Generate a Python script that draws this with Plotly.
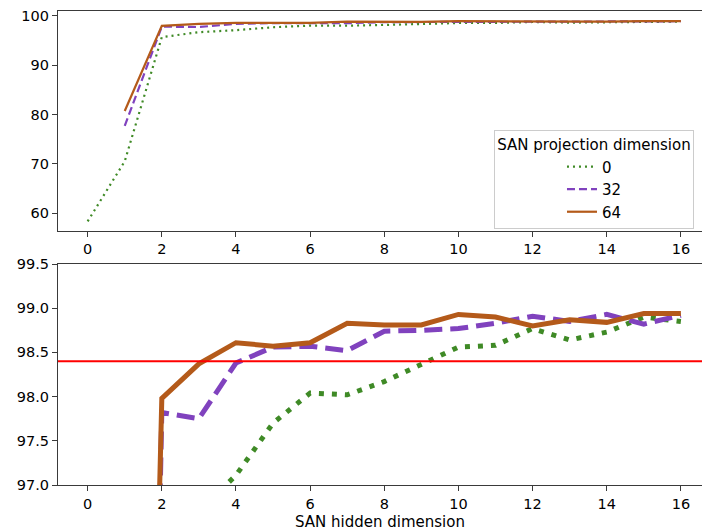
import plotly.graph_objects as go

# Accuracy (%) versus SAN hidden dimension, one series per projection dimension
hidden_dim_p0 = list(range(0, 17))
acc_p0 = [58.3, 70.5, 95.7, 96.7, 97.11, 97.70, 98.04, 98.02, 98.17, 98.36,
          98.56, 98.58, 98.77, 98.64, 98.73, 98.90, 98.85]

hidden_dim_p32 = list(range(1, 17))
acc_p32 = [77.7, 97.82, 97.75, 98.38, 98.56, 98.57, 98.52, 98.74, 98.75,
           98.77, 98.83, 98.91, 98.85, 98.93, 98.82, 98.92]

hidden_dim_p64 = list(range(1, 17))
acc_p64 = [80.7, 97.98, 98.37, 98.61, 98.57, 98.61, 98.83, 98.81, 98.81,
           98.93, 98.90, 98.80, 98.87, 98.84, 98.94, 98.94]

series_names = ["0", "32", "64"]
reference_acc = 98.4

x_ticks = list(range(0, 17, 2))
top_y_ticks = [60, 70, 80, 90, 100]
bottom_y_ticks = [97.0, 97.5, 98.0, 98.5, 99.0, 99.5]

GREEN = "#3f8a26"
PURPLE = "#8042be"
ORANGE = "#b45a1a"
FONT = "DejaVu Sans"

series = [
    (hidden_dim_p0, acc_p0, series_names[0], GREEN, "2px,4px", "5px,8px"),
    (hidden_dim_p32, acc_p32, series_names[1], PURPLE, "8px,4px", "18px,8px"),
    (hidden_dim_p64, acc_p64, series_names[2], ORANGE, "solid", "solid"),
]

fig = go.Figure()

# overview panel (thin lines) with legend
for xs, ys, name, color, dash_thin, dash_thick in series:
    fig.add_trace(go.Scatter(
        x=xs, y=ys, name=name, mode="lines",
        line=dict(color=color, width=2.2, dash=dash_thin),
        xaxis="x", yaxis="y", showlegend=True,
    ))

# zoomed panel (thick lines)
for xs, ys, name, color, dash_thin, dash_thick in series:
    fig.add_trace(go.Scatter(
        x=xs, y=ys, name=name, mode="lines",
        line=dict(color=color, width=5, dash=dash_thick),
        xaxis="x2", yaxis="y2", showlegend=False,
    ))

# reference accuracy level across the zoomed panel
fig.add_shape(type="line", xref="x2 domain", yref="y2",
              x0=0, x1=1, y0=reference_acc, y1=reference_acc,
              line=dict(color="#ff0000", width=2))

axis_common = dict(
    showline=True, linecolor="#3a3a3a", linewidth=1.2,
    ticks="outside", ticklen=5, tickwidth=1.2, tickcolor="#3a3a3a",
    showgrid=False, zeroline=False,
    tickfont=dict(family=FONT, size=14.5, color="#000000"),
)

x_range = [-0.8, 16.57]

fig.update_layout(
    width=702, height=531,
    paper_bgcolor="white", plot_bgcolor="white",
    margin=dict(l=58, r=0, t=11, b=46, autoexpand=False),
    font=dict(family=FONT, size=14.5, color="#000000"),
    xaxis=dict(domain=[0, 1], range=x_range, anchor="y", mirror=True,
               tickmode="array", tickvals=x_ticks, **axis_common),
    yaxis=dict(domain=[0.5359, 1], range=[56.35, 101.0], anchor="x",
               tickmode="array", tickvals=top_y_ticks, **axis_common),
    xaxis2=dict(domain=[0, 1], range=x_range, anchor="y2", mirror=True,
                tickmode="array", tickvals=x_ticks,
                title=dict(text="SAN hidden dimension", standoff=6,
                           font=dict(family=FONT, size=15)),
                **axis_common),
    yaxis2=dict(domain=[0, 0.4662], range=[97.0, 99.5], anchor="x2",
                tickmode="array", tickvals=bottom_y_ticks,
                tickformat=".1f", **axis_common),
    legend=dict(
        x=0.677, y=0.749, xanchor="left", yanchor="top",
        bgcolor="rgba(255,255,255,0.85)", bordercolor="#cccccc", borderwidth=1,
        font=dict(family=FONT, size=15),
        title=dict(text="SAN projection dimension", side="top center",
                   font=dict(family=FONT, size=15)),
        indentation=67,
        tracegroupgap=0,
    ),
)

fig.write_html("out.html")
